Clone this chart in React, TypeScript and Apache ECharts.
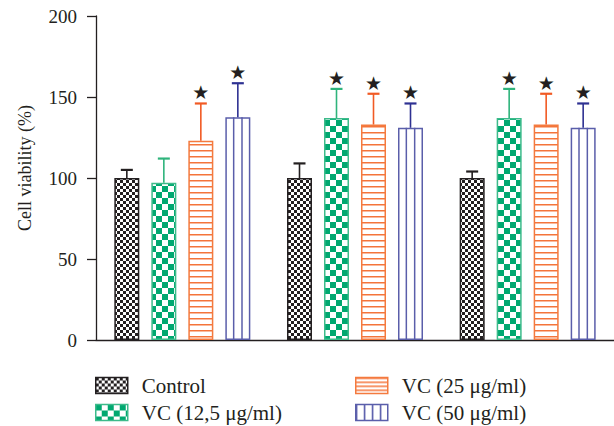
import React, { useEffect, useRef } from 'react';
import * as echarts from 'echarts';

const categories = ['Group 1', 'Group 2', 'Group 3'];
const seriesNames = ['Control', 'VC (12,5 μg/ml)', 'VC (25 μg/ml)', 'VC (50 μg/ml)'];
const controlValues = [100, 100, 100];
const vc125Values = [97, 137, 137];
const vc25Values = [123, 133, 133];
const vc50Values = [137.5, 131, 131];
const controlErr = [5, 9, 4];
const vc125Err = [15, 18, 18];
const vc25Err = [23, 19, 19];
const vc50Err = [21, 15, 15];
const controlStar = [0, 0, 0];
const vc125Star = [0, 1, 1];
const vc25Star = [1, 1, 1];
const vc50Star = [1, 1, 1];
const yMin = 0;
const yMax = 200;
const yInterval = 50;

const FONT = '"Liberation Serif", "Times New Roman", serif';
const INK = '#231f20';

function makeCanvas(w: number, h: number, draw: (ctx: CanvasRenderingContext2D) => void) {
  const c = document.createElement('canvas');
  c.width = w;
  c.height = h;
  const ctx = c.getContext('2d') as CanvasRenderingContext2D;
  ctx.fillStyle = '#ffffff';
  ctx.fillRect(0, 0, w, h);
  draw(ctx);
  return c;
}

export default function App() {
  const ref = useRef<HTMLDivElement>(null);

  useEffect(() => {
    if (!ref.current) return;
    const chart = echarts.init(ref.current, undefined, { renderer: 'svg' });

    const checkerBlack = makeCanvas(6, 6, (ctx) => {
      ctx.fillStyle = INK;
      ctx.fillRect(0, 0, 3, 3);
      ctx.fillRect(3, 3, 3, 3);
    });
    const checkerGreen = makeCanvas(12, 12, (ctx) => {
      ctx.fillStyle = '#00a870';
      ctx.fillRect(0, 0, 6, 6);
      ctx.fillRect(6, 6, 6, 6);
    });
    const orangeLines = makeCanvas(4, 6, (ctx) => {
      ctx.fillStyle = '#f4743a';
      ctx.fillRect(0, 0, 4, 1.5);
    });
    const orangeLinesLegend = makeCanvas(4, 4, (ctx) => {
      ctx.fillStyle = '#f4743a';
      ctx.fillRect(0, 0, 4, 1.5);
    });
    const blueLinesLegend = makeCanvas(8, 4, (ctx) => {
      ctx.fillStyle = '#4a4ea3';
      ctx.fillRect(0, 0, 1.5, 4);
    });

    const colors = [
      { fill: { image: checkerBlack, repeat: 'repeat' }, border: INK, err: INK },
      { fill: { image: checkerGreen, repeat: 'repeat' }, border: '#3dbb8b', err: '#2fb47c' },
      { fill: { image: orangeLines, repeat: 'repeat' }, border: '#f47a3e', err: '#f15a24' },
      { fill: '#ffffff', border: '#5a5eaa', err: '#2e3192' },
    ];
    const legendFills: any[] = [
      colors[0].fill,
      colors[1].fill,
      { image: orangeLinesLegend, repeat: 'repeat' },
      { image: blueLinesLegend, repeat: 'repeat' },
    ];

    const values = [controlValues, vc125Values, vc25Values, vc50Values];
    const errs = [controlErr, vc125Err, vc25Err, vc50Err];
    const stars = [controlStar, vc125Star, vc25Star, vc50Star];

    const overlayData: number[][] = [];
    for (let s = 0; s < 4; s++) {
      for (let c = 0; c < categories.length; c++) {
        overlayData.push([c, s, values[s][c], errs[s][c], stars[s][c]]);
      }
    }

    const BAR_W = 25;
    const GAP = 12;

    const barSeries = seriesNames.map((name, i) => ({
      type: 'bar',
      name,
      data: values[i],
      barWidth: BAR_W,
      barGap: '48%',
      itemStyle: {
        color: colors[i].fill,
        borderColor: colors[i].border,
        borderWidth: 1.5,
      },
      silent: true,
    }));

    const legendItem = (i: number) => ({
      name: seriesNames[i],
      itemStyle: { color: legendFills[i], borderColor: colors[i].border, borderWidth: 1.5 },
    });

    const legendCommon = {
      orient: 'vertical',
      top: 375,
      height: 80,
      padding: 0,
      itemWidth: 32,
      itemHeight: 16,
      itemGap: 6,
      icon: 'rect',
      selectedMode: false,
      textStyle: {
        fontFamily: FONT,
        fontSize: 21,
        color: INK,
        lineHeight: 16,
        padding: [0, 0, 0, 9],
      },
    };

    chart.setOption({
      animation: false,
      grid: { left: 96, top: 16, width: 519, height: 324 },
      legend: [
        { ...legendCommon, left: 95, data: [legendItem(0), legendItem(1)] },
        { ...legendCommon, left: 355, data: [legendItem(2), legendItem(3)] },
      ],
      xAxis: {
        type: 'category',
        data: categories,
        axisLine: { lineStyle: { color: INK, width: 1.3 } },
        axisTick: { alignWithLabel: true, length: 7, lineStyle: { color: INK, width: 1.3 } },
        axisLabel: { show: false },
        splitLine: { show: false },
      },
      yAxis: {
        type: 'value',
        min: yMin,
        max: yMax,
        interval: yInterval,
        axisLine: { show: true, lineStyle: { color: INK, width: 1.3 } },
        axisTick: { show: true, length: 9, lineStyle: { color: INK, width: 1.3 } },
        axisLabel: { margin: 19, fontFamily: FONT, fontSize: 19, color: INK },
        splitLine: { show: false },
      },
      graphic: [
        {
          type: 'text',
          x: 25,
          y: 168,
          rotation: Math.PI / 2,
          style: {
            text: 'Cell viability (%)',
            fontFamily: FONT,
            fontSize: 18,
            fill: INK,
            align: 'center',
            verticalAlign: 'middle',
          },
        },
      ],
      series: [
        ...barSeries,
        {
          type: 'custom',
          name: 'overlay',
          silent: true,
          data: overlayData,
          encode: { x: 0, y: 2 },
          z: 5,
          renderItem: (params: any, api: any) => {
            const cat = api.value(0);
            const s = api.value(1);
            const v = api.value(2);
            const e = api.value(3);
            const star = api.value(4);
            const base = api.coord([cat, 0]);
            const top = api.coord([cat, v]);
            const errP = api.coord([cat, v + e]);
            const total = 4 * BAR_W + 3 * GAP;
            const left = base[0] - total / 2 + s * (BAR_W + GAP);
            const cx = left + BAR_W / 2;
            const col = colors[s];
            const children: any[] = [
              {
                type: 'line',
                shape: { x1: cx, y1: top[1], x2: cx, y2: errP[1] },
                style: { stroke: col.err, lineWidth: 1.6 },
              },
              {
                type: 'line',
                shape: { x1: cx - 6, y1: errP[1], x2: cx + 6, y2: errP[1] },
                style: { stroke: col.err, lineWidth: 2.2 },
              },
            ];
            if (s === 3) {
              for (let k = 1; k <= 2; k++) {
                const lx = left + (BAR_W * k) / 3;
                children.push({
                  type: 'line',
                  shape: { x1: lx, y1: top[1], x2: lx, y2: base[1] },
                  style: { stroke: col.border, lineWidth: 1.5 },
                });
              }
            }
            if (star) {
              children.push({
                type: 'text',
                x: cx,
                y: errP[1] - 11,
                style: {
                  text: '★',
                  fontFamily: '"DejaVu Sans", sans-serif',
                  fontSize: 19,
                  fill: INK,
                  align: 'center',
                  verticalAlign: 'middle',
                },
              });
            }
            return { type: 'group', children };
          },
        },
      ],
    } as any);

    return () => {
      chart.dispose();
    };
  }, []);

  return (
    <div
      ref={ref}
      style={{ position: 'fixed', left: 0, top: 0, width: 614, height: 426, background: '#ffffff' }}
    />
  );
}
